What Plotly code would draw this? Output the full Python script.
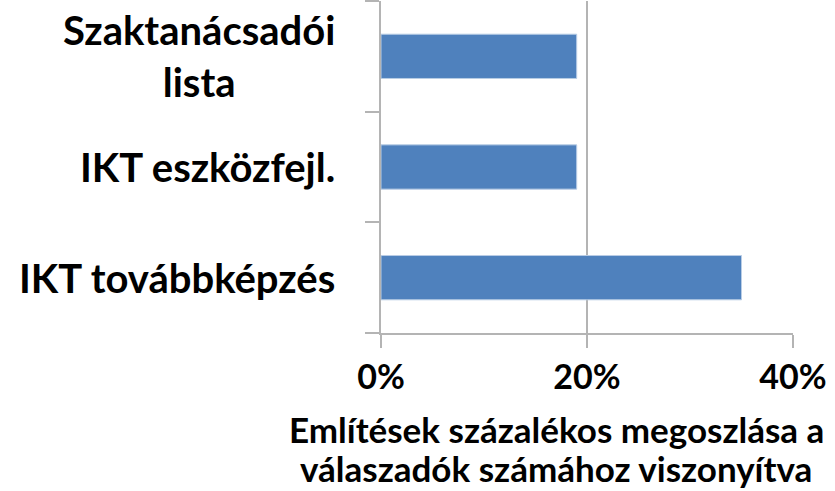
import plotly.graph_objects as go

# data (bottom to top, as drawn)
categories = ["IKT továbbképzés", "IKT eszközfejl.", "Szaktanácsadói lista"]
category_labels = ["IKT továbbképzés", "IKT eszközfejl.", "Szaktanácsadói<br>lista"]
values = [0.35, 0.19, 0.19]
tick_vals = [0, 0.2, 0.4]
tick_text = ["0%", "20%", "40%"]
axis_title = ["Említések százalékos megoszlása a", "válaszadók számához viszonyítva"]

W, H = 835, 491
L, R, T, B = 381, 42, 1, 158
PW, PH = W - L - R, H - T - B
FONT = "Lato"
GRID = "#b4b4b4"


def px_x(px):
    return (px - L) / PW


def px_y(py):
    return (H - B - py) / PH


fig = go.Figure()
fig.add_trace(go.Bar(
    x=values, y=categories, orientation="h",
    marker=dict(color="#4f81bd", line=dict(color="#b9cde5", width=1)),
))

fig.update_layout(
    width=W, height=H,
    margin=dict(l=L, r=R, t=T, b=B, pad=0),
    plot_bgcolor="white", paper_bgcolor="white",
    bargap=0.6, showlegend=False,
    font=dict(family=FONT, color="black"),
)
fig.update_xaxes(
    range=[0, 0.4], tickvals=tick_vals, ticktext=tick_text,
    tickfont=dict(family=FONT, size=34, weight="bold"),
    ticks="outside", ticklen=13, tickcolor=GRID, tickwidth=1.5,
    showgrid=True, gridcolor=GRID, gridwidth=1.5,
    showline=True, linecolor=GRID, linewidth=1.5,
    zeroline=False, fixedrange=True, automargin=False,
)
fig.update_yaxes(
    categoryorder="array", categoryarray=categories,
    range=[-0.5, len(categories) - 0.5],
    showticklabels=False, ticks="outside", tickson="boundaries",
    ticklen=14, tickcolor=GRID, tickwidth=1.5,
    showline=True, linecolor=GRID, linewidth=1.5,
    showgrid=False, zeroline=False, fixedrange=True,
)

# category labels: right-aligned block, lines centered within it
cat_font = dict(family=FONT, size=40, weight="bold", color="black")
for cat, label in zip(categories, category_labels):
    fig.add_annotation(
        x=px_x(337), xref="paper", xanchor="right", align="center",
        y=cat, yref="y", yanchor="middle", showarrow=False,
        text=label, font=cat_font,
    )

title_font = dict(family=FONT, size=35, weight="bold", color="black")
for i, line in enumerate(axis_title):
    fig.add_annotation(
        x=px_x(556), xref="paper", xanchor="center",
        y=px_y(429 + i * 39), yref="paper", yanchor="middle",
        showarrow=False, text=line, font=title_font,
    )

fig.write_html("out.html", config={"displayModeBar": False},
               post_script="document.body.style.margin='0';")
